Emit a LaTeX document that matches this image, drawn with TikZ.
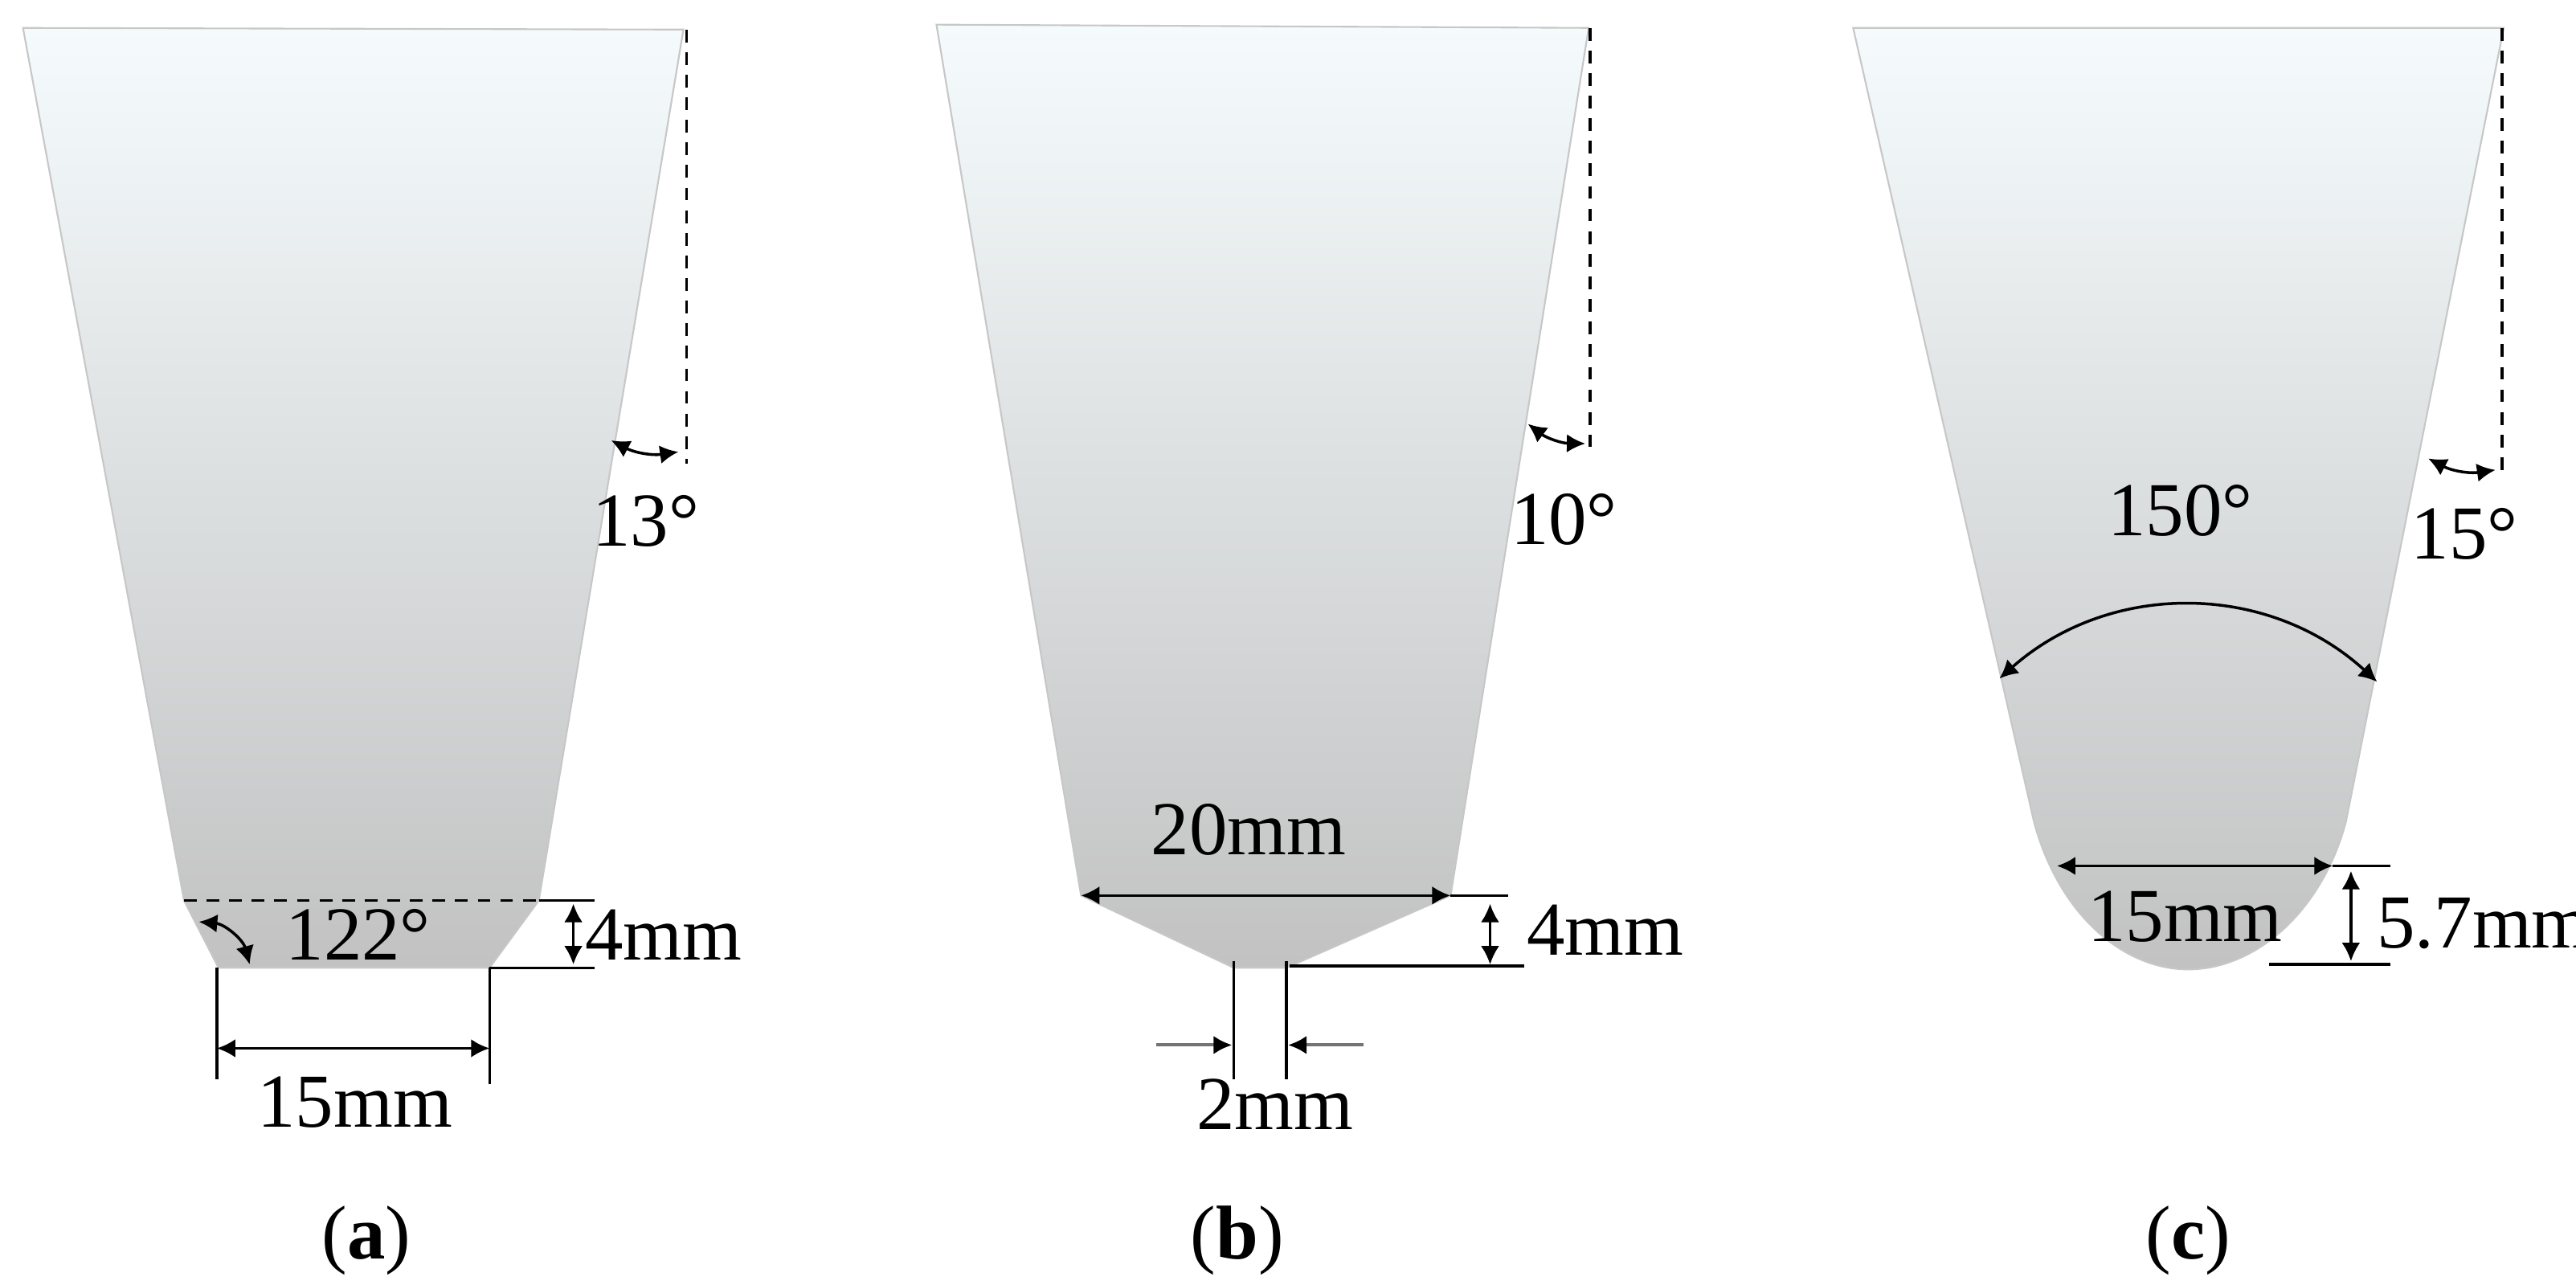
\documentclass[tikz,border=0pt]{standalone}
\usepackage{fontspec}
\setmainfont{Liberation Serif}
\usetikzlibrary{arrows.meta,calc}
\tikzset{
  tool/.style={draw=black!22,line width=0.6pt,top color=topblue,middle color=midgrey,bottom color=black!24},
  dim/.style={black,line width=1pt},
  dimarrow/.style={black,line width=1pt,{Latex[length=2.3mm,width=2.3mm]}-{Latex[length=2.3mm,width=2.3mm]}},
  greyarrow/.style={black!55,line width=1.2pt,-{Latex[length=2.3mm,width=2.3mm,black]}},
  guide/.style={black,line width=1pt,dash pattern=on 4.5pt off 3.5pt},
  lab/.style={font=\fontsize{27}{30}\selectfont,inner sep=0pt}
}
\definecolor{topblue}{HTML}{F5FBFD}
\definecolor{midgrey}{HTML}{E3E5E6}
\begin{document}
\begin{tikzpicture}[x=0.020446cm,y=-0.020446cm]
\useasboundingbox (0,0) rectangle (1568,782);
% (a)
\coordinate (A1) at (14,17);
\coordinate (A2) at (416,18);
\coordinate (A3) at (328,548);
\coordinate (A4) at (298,589);
\coordinate (A5) at (133,589);
\coordinate (A6) at (112,548);
\shade[tool] (A1) -- (A2) -- (A3) -- (A4) -- (A5) -- (A6) -- cycle;
\draw[guide] (418,18) -- (418,282);
\draw[dimarrow,bend right=18] (372,268) to (413,275);
\draw[guide] (A6) -- (A3);
\draw[dim] (A3) -- (362,548);
\draw[dim] (A4) -- (362,589);
\draw[dimarrow] (349,550) -- (349,587);
\draw[dimarrow,bend left=35] (121,561) to (152,587);
\draw[dim] (A5 -| 132,0) -- (132,657);
\draw[dim] (A4) -- (298,660);
\draw[dimarrow] (132,638) -- (298,638);
\node[lab] (a13) at (393,317) {13°};
\node[lab] (a122) at (218,569) {122°};
\node[lab] (a4) at (404,569) {4mm};
\node[lab] (a15) at (216,671) {15mm};
\node[lab] (acap) at (223,755) {(\textbf{a})};
% (b)
\coordinate (B1) at (570,15);
\coordinate (B2) at (967,17);
\coordinate (B3) at (883,545);
\coordinate (B4) at (783,589);
\coordinate (B5) at (751,589);
\coordinate (B6) at (658,545);
\shade[tool] (B1) -- (B2) -- (B3) -- (B4) -- (B5) -- (B6) -- cycle;
\draw[guide] (968,17) -- (968,272);
\draw[dimarrow,bend right=18] (930,258) to (965,270);
\draw[dimarrow] (B6) -- (B3);
\draw[dim] (B3) -- (918,545);
\draw[dim] (785,588) -- (928,588);
\draw[dimarrow] (907,550) -- (907,587);
\draw[dim] (751,585) -- (751,657);
\draw[dim] (783,585) -- (783,657);
\draw[greyarrow] (704,636) -- (750,636);
\draw[greyarrow] (830,636) -- (784,636);
\node[lab] (b10) at (952,316) {10°};
\node[lab] (b20) at (760,505) {20mm};
\node[lab] (b4) at (977,566) {4mm};
\node[lab] (b2) at (776,672) {2mm};
\node[lab] (bcap) at (753,755) {(\textbf{b})};
% (c)
\coordinate (C1) at (1128,17);
\coordinate (C2) at (1524,17);
\coordinate (C3) at (1428,500);
\coordinate (C4) at (1332,590);
\coordinate (C5) at (1238,500);
\shade[tool] (C1) -- (C2) -- (C3) .. controls (1413,556) and (1372,590) .. (C4) .. controls (1292,590) and (1253,556) .. (C5) -- cycle;
\draw[guide] (1523,17) -- (1523,290);
\draw[dimarrow,bend right=18] (1478,279) to (1519,286);
\draw[dimarrow,bend left=42] (1217,413) to (1447,415);
\draw[dimarrow] (1252,527) -- (1420,527);
\draw[dim] (1420,527) -- (1455,527);
\draw[dim] (1381,587) -- (1455,587);
\draw[dimarrow] (1431,530) -- (1431,585);
\node[lab] (c150) at (1327,311) {150°};
\node[lab] (c15) at (1500,325) {15°};
\node[lab] (cw) at (1330,558) {15mm};
\node[lab] (ch) at (1512,562) {5.7mm};
\node[lab] (ccap) at (1332,755) {(\textbf{c})};
\end{tikzpicture}
\end{document}
